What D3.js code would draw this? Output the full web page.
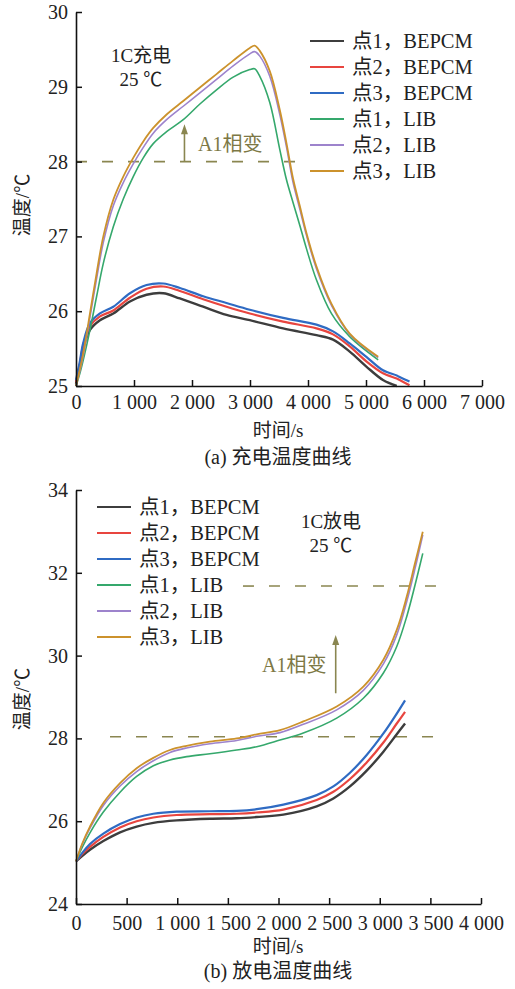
<!DOCTYPE html>
<html><head><meta charset="utf-8">
<script src="https://cdn.jsdelivr.net/npm/d3@7"></script>
<style>
body{margin:0;background:#fff}
svg{display:block}
text{font-family:"Liberation Serif","Times New Roman","Noto Sans CJK SC",serif;fill:#222}
</style>
</head><body>
<svg id="c" width="515" height="989"></svg>
<script>
// ---------- (a) charging ----------
const chargeTimeBEPCM = [0, 60, 126, 241, 413, 643, 930, 1217, 1504, 1791, 2193, 2595, 2997, 3571, 4146, 4432, 4719, 5006, 5293, 5530, 5580, 5750];
const chargeBEPCM1 = [25.03, 25.25, 25.5, 25.75, 25.88, 25.97, 26.13, 26.22, 26.24, 26.17, 26.06, 25.95, 25.88, 25.77, 25.68, 25.62, 25.46, 25.26, 25.08, 25.0, null, null];
const chargeBEPCM2 = [25.05, 25.27, 25.55, 25.8, 25.93, 26.01, 26.18, 26.3, 26.33, 26.27, 26.16, 26.06, 25.97, 25.86, 25.77, 25.69, 25.53, 25.33, 25.17, 25.1, 25.08, 25.01];
const chargeBEPCM3 = [25.08, 25.3, 25.58, 25.84, 25.97, 26.06, 26.24, 26.35, 26.37, 26.31, 26.2, 26.11, 26.02, 25.91, 25.82, 25.73, 25.57, 25.39, 25.21, 25.14, 25.12, 25.06];
const chargeTimeLIB = [0, 60, 126, 241, 356, 471, 643, 815, 987, 1160, 1332, 1562, 1849, 2136, 2423, 2710, 2997, 3080, 3169, 3341, 3514, 3628, 3743, 3858, 3972, 4145, 4403, 4719, 5210];
const chargeLIB1 = [25.0, 25.15, 25.35, 25.75, 26.2, 26.64, 27.13, 27.5, 27.8, 28.05, 28.24, 28.4, 28.56, 28.77, 28.96, 29.13, 29.23, 29.24, 29.14, 28.79, 28.16, 27.76, 27.45, 27.15, 26.84, 26.42, 25.97, 25.66, 25.35];
const chargeLIB2 = [25.0, 25.18, 25.41, 25.92, 26.44, 26.92, 27.41, 27.72, 27.97, 28.19, 28.38, 28.56, 28.74, 28.92, 29.1, 29.28, 29.44, 29.47, 29.41, 29.14, 28.63, 28.2, 27.72, 27.37, 27.02, 26.57, 26.08, 25.69, 25.38];
const chargeLIB3 = [25.0, 25.2, 25.44, 25.97, 26.51, 27.0, 27.49, 27.8, 28.05, 28.27, 28.45, 28.63, 28.81, 28.99, 29.17, 29.35, 29.52, 29.55, 29.48, 29.21, 28.69, 28.25, 27.77, 27.41, 27.05, 26.6, 26.1, 25.7, 25.39];
const chargeXTicks = [0, 1000, 2000, 3000, 4000, 5000, 6000, 7000];
const chargeYTicks = [25, 26, 27, 28, 29, 30];

// ---------- (b) discharging ----------
const dischargeTimeBEPCM = [0, 60, 138, 270, 435, 599, 764, 994, 1323, 1587, 1785, 2048, 2377, 2542, 2706, 2871, 3036, 3168, 3250];
const dischargeBEPCM1 = [25.03, 25.16, 25.31, 25.52, 25.73, 25.87, 25.96, 26.02, 26.06, 26.07, 26.1, 26.16, 26.36, 26.55, 26.84, 27.22, 27.68, 28.1, 28.36];
const dischargeBEPCM2 = [25.03, 25.2, 25.38, 25.62, 25.85, 26.0, 26.09, 26.15, 26.17, 26.18, 26.21, 26.28, 26.51, 26.71, 27.02, 27.42, 27.9, 28.36, 28.64];
const dischargeBEPCM3 = [25.03, 25.23, 25.45, 25.7, 25.93, 26.09, 26.18, 26.23, 26.24, 26.25, 26.29, 26.4, 26.63, 26.84, 27.17, 27.6, 28.12, 28.6, 28.92];
const dischargeTimeLIB = [0, 60, 138, 270, 435, 599, 764, 928, 1093, 1323, 1587, 1785, 2015, 2245, 2575, 2838, 3036, 3168, 3266, 3348, 3425];
const dischargeLIB1 = [25.03, 25.36, 25.72, 26.22, 26.7, 27.08, 27.34, 27.48, 27.56, 27.63, 27.72, 27.8, 27.96, 28.13, 28.49, 28.97, 29.58, 30.22, 30.94, 31.7, 32.47];
const dischargeLIB2 = [25.03, 25.43, 25.83, 26.38, 26.85, 27.2, 27.46, 27.66, 27.77, 27.87, 27.95, 28.05, 28.14, 28.34, 28.69, 29.16, 29.8, 30.5, 31.3, 32.1, 32.92];
const dischargeLIB3 = [25.03, 25.45, 25.87, 26.44, 26.92, 27.28, 27.53, 27.72, 27.82, 27.92, 28.0, 28.1, 28.2, 28.41, 28.77, 29.25, 29.9, 30.62, 31.42, 32.23, 32.99];
const dischargeXTicks = [0, 500, 1000, 1500, 2000, 2500, 3000, 3500, 4000];
const dischargeYTicks = [24, 26, 28, 30, 32, 34];

const seriesNames = ["点1，BEPCM", "点2，BEPCM", "点3，BEPCM", "点1，LIB", "点2，LIB", "点3，LIB"];
const seriesColors = ["#3d3d3d", "#e8453f", "#2f6bc3", "#35a86c", "#9d83cc", "#cc922c"];
const seriesWidths = [2.4, 2.2, 2.2, 1.6, 1.6, 1.8];
const olive = "#8a8650";

const svg = d3.select("#c");
const fmt = v => d3.format(",")(v).replace(/,/g, " ");

function panel(cfg) {
  const g = svg.append("g");
  const x = d3.scaleLinear().domain(cfg.xDomain).range(cfg.xRange);
  const y = d3.scaleLinear().domain(cfg.yDomain).range(cfg.yRange);

  // dashed reference lines
  cfg.dashes.forEach(d => {
    g.append("line").attr("x1", x(d[0])).attr("x2", x(d[1])).attr("y1", y(d[2])).attr("y2", y(d[2]))
      .attr("stroke", olive).attr("stroke-width", 1.6).attr("stroke-dasharray", "11,15");
  });

  // series
  const line = d3.line().defined(d => d[1] != null).x(d => x(d[0])).y(d => y(d[1])).curve(d3.curveCatmullRom.alpha(0.5));
  cfg.series.forEach((s, i) => {
    const pts = s.t.map((t, k) => [t, s.v[k]]);
    g.append("path").attr("d", line(pts)).attr("fill", "none")
      .attr("stroke", seriesColors[i]).attr("stroke-width", seriesWidths[i]).attr("stroke-linejoin", "round");
  });

  // axes
  const ax = g.append("g").attr("transform", `translate(0,${cfg.yRange[0]})`)
    .call(d3.axisBottom(x).tickValues(cfg.xTicks).tickFormat(fmt).tickSizeInner(-6).tickSizeOuter(0).tickPadding(cfg.xPad));
  const ay = g.append("g").attr("transform", `translate(${cfg.xRange[0]},0)`)
    .call(d3.axisLeft(y).tickValues(cfg.yTicks).tickFormat(d3.format("d")).tickSizeInner(-6).tickSizeOuter(0).tickPadding(8));
  [ax, ay].forEach(a => {
    a.select(".domain").attr("stroke", "#111").attr("stroke-width", 1.6);
    a.selectAll(".tick line").attr("stroke", "#111").attr("stroke-width", 1.5);
    a.selectAll(".tick text").attr("font-size", 20).attr("fill", "#222")
      .attr("font-family", '"Liberation Serif","Times New Roman",serif');
  });

  // axis titles
  g.append("text").attr("transform", `translate(${cfg.yTitle[0]},${cfg.yTitle[1]}) rotate(-90)`)
    .attr("text-anchor", "middle").attr("dominant-baseline", "central").attr("font-size", 19).text("温度/℃");
  g.append("text").attr("x", cfg.xTitle[0]).attr("y", cfg.xTitle[1]).attr("text-anchor", "middle")
    .attr("dominant-baseline", "central").attr("font-size", 19).text("时间/s");
  g.append("text").attr("x", cfg.sub[0]).attr("y", cfg.sub[1]).attr("text-anchor", "middle")
    .attr("dominant-baseline", "central").attr("font-size", 20).text(cfg.subText);

  // legend
  seriesNames.forEach((n, i) => {
    const yy = cfg.legend[1] + i * 26;
    g.append("line").attr("x1", cfg.legend[0]).attr("x2", cfg.legend[0] + 34).attr("y1", yy).attr("y2", yy)
      .attr("stroke", seriesColors[i]).attr("stroke-width", 1.8);
    g.append("text").attr("x", cfg.legend[0] + 42).attr("y", yy).attr("dominant-baseline", "central")
      .attr("font-size", 20.5).text(n);
  });

  // condition text
  g.append("text").attr("x", cfg.cond[0]).attr("y", cfg.cond[1]).attr("text-anchor", "middle").attr("font-size", 19).text(cfg.condText);
  g.append("text").attr("x", cfg.cond[0]).attr("y", cfg.cond[1] + 24).attr("text-anchor", "middle").attr("font-size", 19).text("25 ℃");

  // arrow + A1 label
  const a = cfg.arrow;
  const axp = x(a[0]), y0 = y(a[1]), y1 = y(a[2]);
  g.append("line").attr("x1", axp).attr("x2", axp).attr("y1", y0).attr("y2", y1 + 8)
    .attr("stroke", olive).attr("stroke-width", 1.6);
  g.append("path").attr("d", `M${axp},${y1} L${axp - 3.5},${y1 + 10} L${axp + 3.5},${y1 + 10} Z`).attr("fill", olive);
  g.append("text").attr("x", cfg.a1[0]).attr("y", cfg.a1[1]).attr("font-size", 20)
    .style("fill", "#7d7845").text("A1相变");
}

panel({
  xDomain: [0, 7000], xRange: [76, 482],
  yDomain: [25, 30], yRange: [386, 12],
  xTicks: chargeXTicks, yTicks: chargeYTicks, xPad: 9,
  series: [
    {t: chargeTimeBEPCM, v: chargeBEPCM1}, {t: chargeTimeBEPCM, v: chargeBEPCM2}, {t: chargeTimeBEPCM, v: chargeBEPCM3},
    {t: chargeTimeLIB, v: chargeLIB1}, {t: chargeTimeLIB, v: chargeLIB2}, {t: chargeTimeLIB, v: chargeLIB3}
  ],
  dashes: [[0, 3858, 28]],
  yTitle: [22, 205], xTitle: [278, 430], sub: [278, 457], subText: "(a) 充电温度曲线",
  legend: [310, 41], cond: [141, 62], condText: "1C充电",
  arrow: [1870, 28, 28.5], a1: [198, 151]
});

panel({
  xDomain: [0, 4000], xRange: [76, 481],
  yDomain: [24, 34], yRange: [904, 490],
  xTicks: dischargeXTicks, yTicks: dischargeYTicks, xPad: 12,
  series: [
    {t: dischargeTimeBEPCM, v: dischargeBEPCM1}, {t: dischargeTimeBEPCM, v: dischargeBEPCM2}, {t: dischargeTimeBEPCM, v: dischargeBEPCM3},
    {t: dischargeTimeLIB, v: dischargeLIB1}, {t: dischargeTimeLIB, v: dischargeLIB2}, {t: dischargeTimeLIB, v: dischargeLIB3}
  ],
  dashes: [[1649, 3694, 31.68], [336, 3575, 28.04]],
  yTitle: [22, 699], xTitle: [278, 946], sub: [278, 971], subText: "(b) 放电温度曲线",
  legend: [97, 507], cond: [331, 528], condText: "1C放电",
  arrow: [2565, 29.09, 30.5], a1: [262, 672]
});
</script>
</body></html>
